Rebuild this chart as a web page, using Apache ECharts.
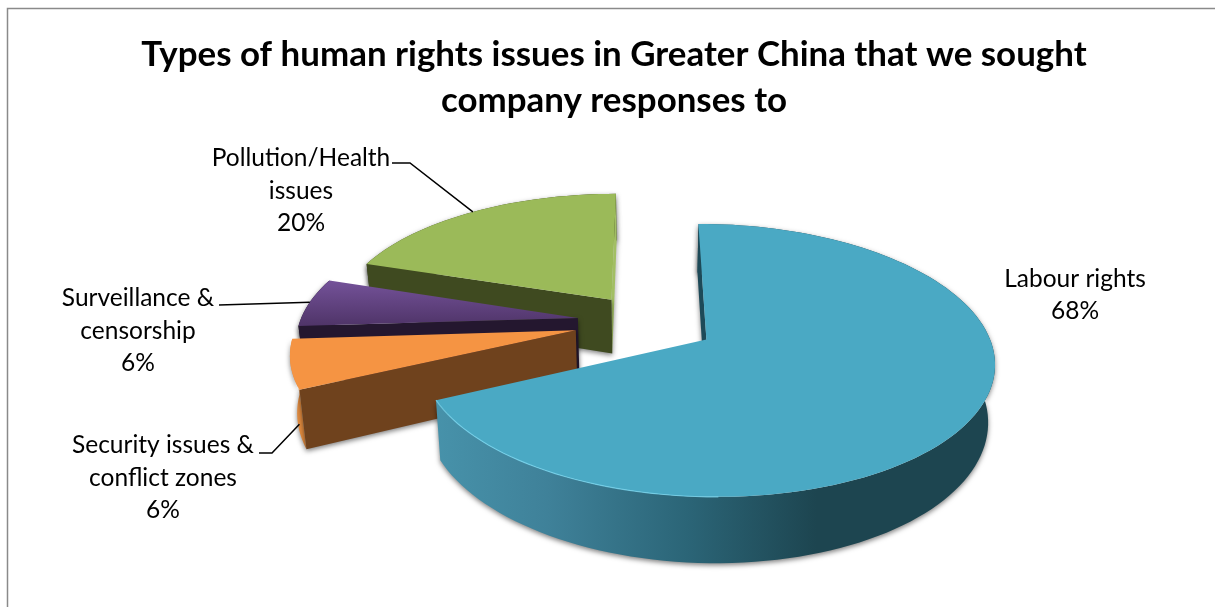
<!DOCTYPE html>
<html><head><meta charset="utf-8">
<style>html,body{margin:0;padding:0;background:#fff}#c{width:1215px;height:607px}</style>
<script src="https://cdn.jsdelivr.net/npm/echarts@6/dist/echarts.min.js"></script>
</head><body><div id="c"></div>
<script>
// ---- data (clockwise from twelve o'clock)
var categories = ['Labour rights', 'Security issues &\nconflict zones', 'Surveillance &\ncensorship', 'Pollution/Health\nissues'];
var values = [68, 6, 6, 20];
var titleText = 'Types of human rights issues in Greater China that we sought\ncompany responses to';

// ---- styling and layout
var explode = [0.25, 0.26, 0.25, 0.22];
var topColors = ['#4aa9c4', '#f59443', null, '#9bba59'];
var startWall = ['#1d4a58', '#6f421d', '#24172f', '#3f4a20'];
var endWall = [null, null, null, '#a2bf63'];
var rimColors = [null, '#e08a3e', '#24172f', '#3f4a20'];
var labelPos = [[1075, 295], [163, 478], [138, 331], [301, 191]];
var leaderStart = [null, [[259, 453], [272, 453]], [[219, 305]], [[392, 163], [410, 163]]];
var leaderAngle = [0, 250, 277.3, 324];
var leaderDepth = [0, 0.8, 0, 0];
var view = {cx: 646.5, cy: 322, R: 278, Ry: 128, k: 0.15, D: 55, vx: 650, s: 0.98};
var fontFamily = 'Lato, "Open Sans", sans-serif';

function project(U, V, depth) {
  var w = 1 - view.k * V;
  var x = view.cx + view.R * U / w;
  var y = view.cy + view.Ry * V / w;
  var sc = 1 - (1 - view.s) * depth;
  return [view.vx + (x - view.vx) * sc, y + depth * view.D / w];
}
function rad(d) { return d * Math.PI / 180; }
var total = values.reduce(function (a, b) { return a + b; }, 0);
var angles = [], acc = 0;
values.forEach(function (v) { angles.push([acc, acc + v / total * 360]); acc += v / total * 360; });

function offsetOf(i) {
  var mid = rad((angles[i][0] + angles[i][1]) / 2);
  return [explode[i] * Math.sin(mid), -explode[i] * Math.cos(mid)];
}
function rimPoint(i, deg, depth) {
  var o = offsetOf(i), a = rad(deg);
  return project(o[0] + Math.sin(a), o[1] - Math.cos(a), depth);
}
function arcPoints(i, a0, a1, depth) {
  var n = Math.max(8, Math.ceil(Math.abs(a1 - a0) / 2)), pts = [];
  for (var j = 0; j <= n; j++) pts.push(rimPoint(i, a0 + (a1 - a0) * j / n, depth));
  return pts;
}
var shadow = {shadowColor: 'rgba(0,0,0,0.5)', shadowBlur: 5, shadowOffsetY: 2};
function withShadow(s) { return Object.assign({}, shadow, s); }

function renderItem(params, api) {
  var i = api.value(0);
  var a0 = angles[i][0], a1 = angles[i][1];
  var o = offsetOf(i);
  var apexT = project(o[0], o[1], 0), apexB = project(o[0], o[1], 1);
  var kids = [];
  var rimFill = rimColors[i] || new echarts.graphic.LinearGradient(0, 0, 1, 0, [
    {offset: 0, color: '#4792aa'}, {offset: 0.2, color: '#3f8199'},
    {offset: 0.45, color: '#2b6577'}, {offset: 0.68, color: '#1d4550'}, {offset: 1, color: '#1d4550'}
  ]);
  var rimTop = arcPoints(i, a0, a1, 0), rimBot = arcPoints(i, a0, a1, 1);
  kids.push({type: 'polygon', shape: {points: rimTop.concat(rimBot.reverse())}, style: withShadow({fill: rimFill})});
  var s0 = rimPoint(i, a0, 0), s1 = rimPoint(i, a0, 1), e0 = rimPoint(i, a1, 0), e1 = rimPoint(i, a1, 1);
  if (endWall[i]) kids.push({type: 'polygon', shape: {points: [apexT, e0, e1, apexB]}, style: withShadow({fill: endWall[i]})});
  kids.push({type: 'polygon', shape: {points: [apexT, s0, s1, apexB]}, style: withShadow({fill: startWall[i]})});
  var topFill = topColors[i] || new echarts.graphic.LinearGradient(0, 0, 0, 1, [
    {offset: 0, color: '#745299'}, {offset: 1, color: '#4f3468'}
  ]);
  kids.push({type: 'polygon', shape: {points: [apexT].concat(arcPoints(i, a0, a1, 0))}, style: {fill: topFill}});
  if (i === 0) {
    kids.push({type: 'polyline', shape: {points: arcPoints(i, a1, a1 - 65, 0)},
      style: {fill: null, stroke: 'rgba(120,215,240,0.75)', lineWidth: 1.2}});
  }
  if (leaderStart[i]) {
    var end = rimPoint(i, leaderAngle[i], leaderDepth[i]);
    kids.push({type: 'polyline', z2: 5, shape: {points: leaderStart[i].concat([end])},
      style: {fill: null, stroke: '#000', lineWidth: 1.5}});
  }
  kids.push({type: 'text', z2: 6, style: {
    x: labelPos[i][0], y: labelPos[i][1], text: categories[i] + '\n' + api.value(1) + '%',
    align: 'center', verticalAlign: 'middle', fill: '#000',
    font: '24.5px ' + fontFamily, lineHeight: 32.5
  }});
  return {type: 'group', children: kids};
}

// far slices are painted first
var order = [3, 2, 1, 0];
var seriesData = order.map(function (i) { return [i, values[i]]; });

var chart = echarts.init(document.getElementById('c'));
chart.setOption({
  animation: false,
  backgroundColor: '#fff',
  title: {
    text: titleText, left: 609, top: 27, textAlign: 'center',
    textStyle: {fontFamily: fontFamily, fontWeight: 'bold', fontSize: 34.9, lineHeight: 46, color: '#000'}
  },
  graphic: [{type: 'rect', silent: true, shape: {x: 7.5, y: 8.5, width: 1400, height: 800},
    style: {fill: 'none', stroke: '#8a8a8a', lineWidth: 1.5}}],
  series: [{type: 'custom', coordinateSystem: 'none', renderItem: renderItem, data: seriesData, silent: true}]
});
</script></body></html>
